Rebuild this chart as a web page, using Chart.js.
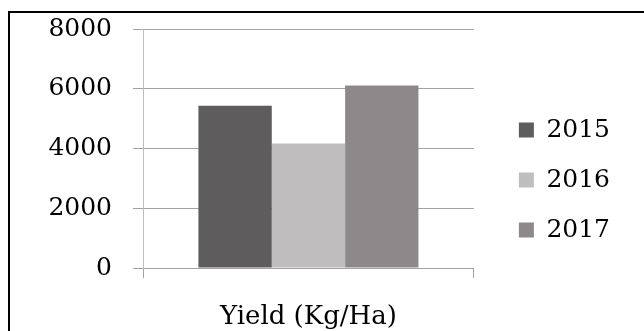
<!DOCTYPE html>
<html>
<head>
<meta charset="utf-8">
<script src="https://cdn.jsdelivr.net/npm/chart.js@4/dist/chart.umd.min.js"></script>
<style>
  html, body { margin: 0; padding: 0; background: #fff; overflow: hidden; }
  #frame {
    position: absolute; left: 8px; top: 11px;
    width: 700px; height: 400px;
    border: 2px solid #000;
  }
  #yieldChart { position: absolute; left: 0; top: 0; }
</style>
</head>
<body>
<div id="frame"></div>
<canvas id="yieldChart" width="644" height="331"></canvas>
<script>
const categories = ["Yield (Kg/Ha)"];
const seriesNames = ["2015", "2016", "2017"];
const values2015 = [5430];
const values2016 = [4170];
const values2017 = [6110];
const yTicks = [0, 2000, 4000, 6000, 8000];

const seriesColors = ["#5f5c5d", "#c0bdbe", "#8d898a"];
const gridColor = "#a3a3a3";
const serif = "'DejaVu Serif', serif";

new Chart(document.getElementById("yieldChart").getContext("2d"), {
  type: "bar",
  data: {
    labels: categories,
    datasets: [values2015, values2016, values2017].map((vals, i) => ({
      label: seriesNames[i],
      data: vals,
      backgroundColor: seriesColors[i],
      borderWidth: 0,
      barPercentage: 1,
      categoryPercentage: 0.665,
    })),
  },
  options: {
    responsive: false,
    animation: false,
    layout: {
      padding: { left: 0, top: 29, right: 24, bottom: 0 },
    },
    plugins: {
      tooltip: { enabled: false },
      legend: {
        position: "right",
        align: "center",
        maxWidth: 200,
        labels: {
          boxWidth: 15,
          boxHeight: 15,
          padding: 25,
          color: "#000",
          font: { family: serif, size: 25 },
        },
      },
    },
    scales: {
      x: {
        grid: {
          display: true,
          drawOnChartArea: false,
          tickLength: 10,
          color: gridColor,
        },
        border: { color: gridColor },
        ticks: {
          padding: 24,
          color: "#000",
          font: { family: serif, size: 26 },
        },
        afterFit: (scale) => { scale.height = 63; },
      },
      y: {
        min: 0,
        max: 8000,
        afterBuildTicks: (scale) => {
          scale.ticks = yTicks.map((v) => ({ value: v }));
        },
        grid: { color: gridColor, tickLength: 10 },
        border: { color: "#bdbdbd" },
        ticks: {
          padding: 21,
          color: "#000",
          font: { family: serif, size: 25 },
          callback: (v) => String(v),
        },
        afterFit: (scale) => {
          scale.width = 143;
          scale.paddingTop = 0;
          scale.paddingBottom = 0;
        },
      },
      gap: {
        position: "right",
        display: true,
        grid: { display: false },
        border: { display: false },
        ticks: { display: false },
        afterFit: (scale) => { scale.width = 20; },
      },
    },
  },
});
</script>
</body>
</html>
